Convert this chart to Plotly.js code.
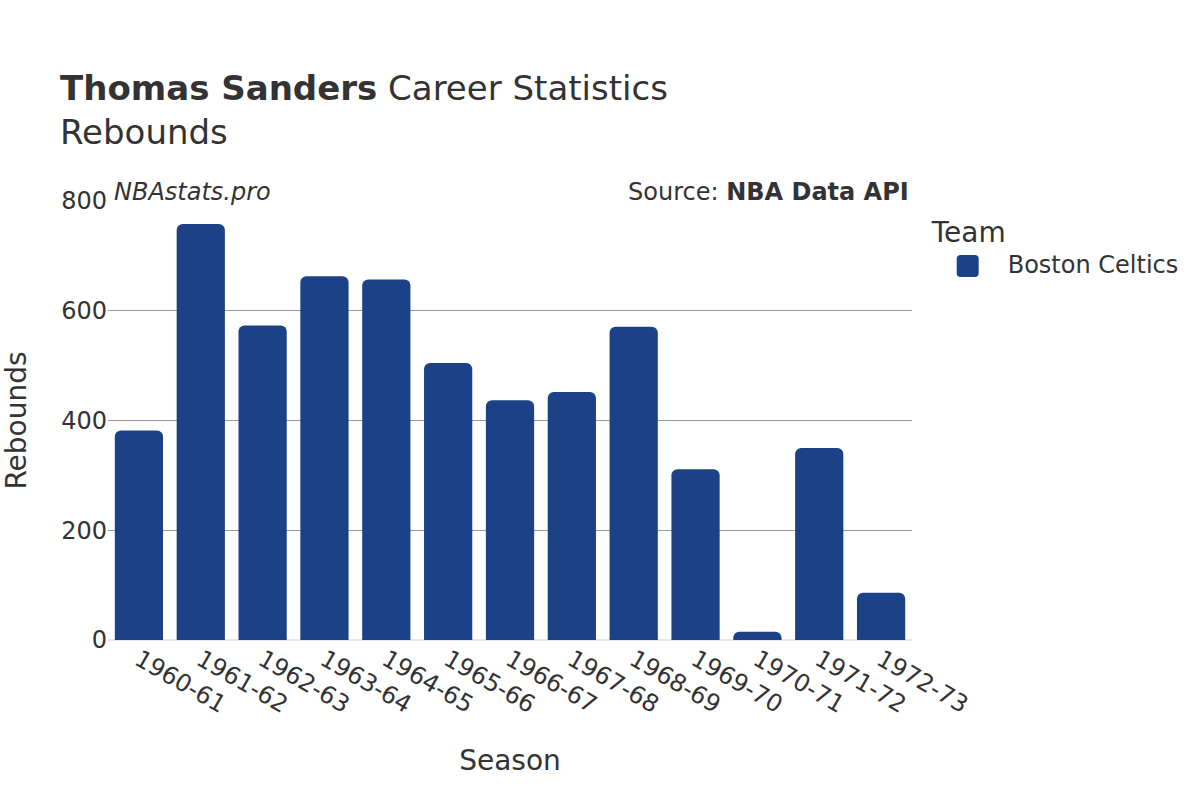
<!DOCTYPE html>
<html>
<head>
<meta charset="utf-8">
<script src="https://cdn.plot.ly/plotly-3.0.1.min.js"></script>
<style>html,body{margin:0;padding:0;background:#fff;}#chart{width:1200px;height:800px;}</style>
</head>
<body>
<div id="chart"></div>
<script>
const seasons = ["1960-61","1961-62","1962-63","1963-64","1964-65","1965-66","1966-67","1967-68","1968-69","1969-70","1970-71","1971-72","1972-73"];
const rebounds = [382, 758, 573, 663, 657, 505, 437, 452, 571, 311, 15, 350, 86];
const teamName = "Boston Celtics";
const yTicks = [0, 200, 400, 600, 800];

const FONT = "DejaVu Sans, sans-serif";
const TXT = "#333";
const BAR = "#1b4287";

const trace = {
  type: "bar",
  x: seasons,
  y: rebounds,
  name: teamName,
  marker: { color: BAR, cornerradius: 6 },
  hovertemplate: "%{x}: %{y}<extra></extra>"
};

const layout = {
  width: 1200, height: 800,
  paper_bgcolor: "#fff", plot_bgcolor: "#fff",
  font: { family: FONT, color: TXT, size: 24 },
  margin: { l: 108, r: 288, t: 201, b: 160 },
  title: {
    text: "<b>Thomas Sanders</b> Career Statistics<br>Rebounds",
    x: 0.05, xanchor: "left", y: 0.875, yanchor: "top",
    font: { family: FONT, size: 34, color: TXT }
  },
  bargap: 0.22,
  xaxis: {
    tickangle: 30,
    tickfont: { size: 24, color: TXT },
    title: { text: "Season", font: { size: 28, color: TXT }, standoff: 32 },
    showgrid: false, zeroline: false, showline: false, ticks: ""
  },
  yaxis: {
    range: [0, 800],
    tickvals: yTicks,
    tickfont: { size: 24, color: TXT },
    title: { text: "Rebounds", font: { size: 28, color: TXT }, standoff: 28 },
    showgrid: true, gridcolor: "#999", gridwidth: 1,
    zeroline: true, zerolinecolor: "#e6e6ee", zerolinewidth: 2,
    showline: false, ticks: ""
  },
  legend: {
    x: 1.022, xanchor: "left", y: 0.99, yanchor: "top",
    itemwidth: 68,
    title: { text: "Team", font: { size: 28, color: TXT } },
    font: { size: 24, color: TXT }
  },
  showlegend: true,
  annotations: [
    { text: "<i>NBAstats.pro</i>", xref: "paper", yref: "paper", x: 0.005, y: 0.984, xanchor: "left", yanchor: "bottom", showarrow: false, font: { size: 24, color: TXT } },
    { text: "Source: <b>NBA Data API</b>", xref: "paper", yref: "paper", x: 0.999, y: 0.984, xanchor: "right", yanchor: "bottom", showarrow: false, font: { size: 24, color: TXT } }
  ]
};

function roundedSquare(cx, cy, h, r) {
  const l = cx - h, rt = cx + h, t = cy - h, b = cy + h;
  return `M${l + r},${t}H${rt - r}Q${rt},${t} ${rt},${t + r}V${b - r}Q${rt},${b} ${rt - r},${b}` +
         `H${l + r}Q${l},${b} ${l},${b - r}V${t + r}Q${l},${t} ${l + r},${t}Z`;
}

Plotly.newPlot("chart", [trace], layout, { displayModeBar: false, staticPlot: true }).then(function (gd) {
  gd.querySelectorAll(".legend .legendpoints path").forEach(function (p) {
    p.setAttribute("d", roundedSquare(-1, 2, 11, 4));
    p.style.fill = BAR;
    p.style.stroke = "none";
  });
});
</script>
</body>
</html>
